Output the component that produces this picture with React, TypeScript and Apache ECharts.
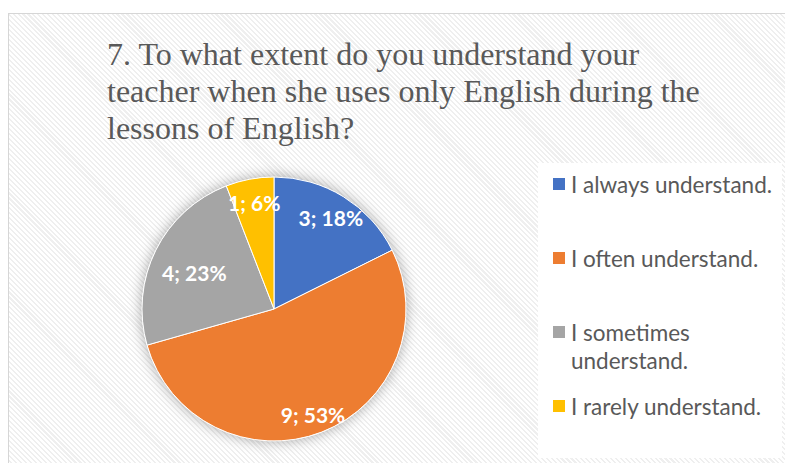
import React, { useEffect, useRef } from "react";
import * as echarts from "echarts";

const categories = [
  "I always understand.",
  "I often understand.",
  "I sometimes understand.",
  "I rarely understand.",
];
const counts = [3, 9, 4, 1];
const colors = ["#4472C4", "#ED7D31", "#A5A5A5", "#FFC000"];
const titleText =
  "7. To what extent do you understand your\nteacher when she uses only English during the\nlessons of English?";

const CENTER = [274, 309];
const RADIUS = 132;

export default function App() {
  const ref = useRef<HTMLDivElement>(null);
  useEffect(() => {
    document.body.style.margin = "0";
    const chart = echarts.init(ref.current!, null, { renderer: "svg" });
    const data = categories.map((n, i) => ({
      name: n,
      value: counts[i],
      itemStyle: { color: colors[i] },
    }));
    const labelOffsets: Record<number, number[]> = { 1: [0, 5], 2: [17, 12] };
    const legendFont = { fontFamily: "Lato", fontSize: 22.5, color: "#595959" };
    const legendCenters = [184, 258, 332, 406];
    const legends = categories.map((n, i) => {
      const twoLine = i === 2;
      return {
        data: [n],
        left: 551,
        top: twoLine ? legendCenters[i] - 42 : legendCenters[i] - 12,
        padding: 0,
        itemWidth: 14,
        itemHeight: 14,
        itemGap: 0,
        icon: "rect",
        selectedMode: false,
        orient: "vertical",
        formatter: twoLine ? "\nI sometimes\nunderstand." : "{name}",
        textStyle: twoLine
          ? { ...legendFont, lineHeight: 28 }
          : { ...legendFont, lineHeight: 24 },
      };
    });
    chart.setOption({
      animation: false,
      title: {
        text: titleText,
        left: 107,
        top: 35,
        padding: 0,
        textStyle: {
          fontFamily: "Liberation Serif",
          fontSize: 32,
          lineHeight: 37,
          fontWeight: "normal",
          color: "#595959",
        },
      },
      graphic: [
        {
          type: "rect",
          left: 538,
          top: 163,
          shape: { width: 244, height: 295 },
          style: { fill: "#ffffff" },
          silent: true,
          z: -10,
        },
      ],
      legend: legends,
      series: [
        {
          type: "pie",
          center: CENTER,
          radius: RADIUS,
          silent: true,
          z: 1,
          label: { show: false },
          data: [{ name: "shadow", value: 1 }],
          itemStyle: {
            color: "#ffffff",
            shadowBlur: 14,
            shadowColor: "rgba(0,0,0,0.35)",
          },
        },
        {
          type: "pie",
          center: CENTER,
          radius: RADIUS,
          startAngle: 90,
          clockwise: true,
          silent: true,
          z: 2,
          label: { show: false },
          labelLine: { show: false },
          itemStyle: { borderColor: "#ffffff", borderWidth: 1 },
          data,
        },
        {
          type: "pie",
          center: CENTER,
          radius: [78, RADIUS],
          startAngle: 90,
          clockwise: true,
          silent: true,
          z: 3,
          percentPrecision: 0,
          labelLine: { show: false },
          itemStyle: { color: "rgba(0,0,0,0)" },
          label: {
            show: true,
            position: "inside",
            formatter: "{c}; {d}%",
            fontFamily: "Lato",
            fontWeight: "bold",
            fontSize: 21,
            color: "#ffffff",
          },
          data: categories.map((n, i) => ({
            name: n,
            value: counts[i],
            label: labelOffsets[i] ? { offset: labelOffsets[i] } : {},
          })),
        },
      ],
    });
    return () => chart.dispose();
  }, []);
  return (
    <div style={{ position: "relative", width: 785, height: 463, background: "#fff", overflow: "hidden" }}>
      <div
        style={{
          position: "absolute",
          left: 8,
          top: 13,
          width: 800,
          height: 470,
          borderLeft: "1.5px solid #d6d6d6",
          borderTop: "1.5px solid #d6d6d6",
          background:
            "repeating-linear-gradient(45deg, #ffffff 0px, #ffffff 2px, #efefef 2px, #efefef 3.5px)",
        }}
      />
      <div ref={ref} style={{ position: "absolute", left: 0, top: 0, width: 785, height: 463 }} />
    </div>
  );
}
